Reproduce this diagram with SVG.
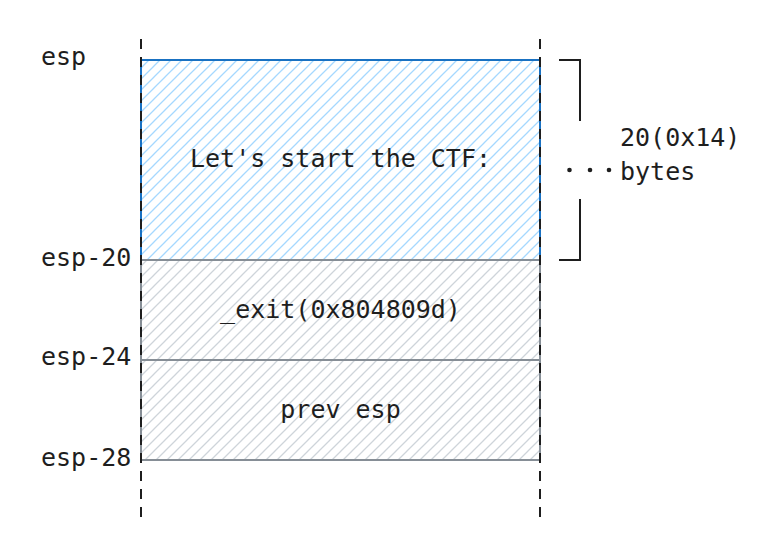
<svg xmlns="http://www.w3.org/2000/svg" width="783" height="560" viewBox="0 0 783 560">
  <defs>
    <pattern id="hatchBlue" patternUnits="userSpaceOnUse" width="11" height="11">
      <path d="M-1,1 L1,-1 M0,11 L11,0 M10,12 L12,10" stroke="#a5d8ff" stroke-width="1.3"/>
    </pattern>
    <pattern id="hatchGray" patternUnits="userSpaceOnUse" width="11" height="11">
      <path d="M-1,1 L1,-1 M0,11 L11,0 M10,12 L12,10" stroke="#ced4da" stroke-width="1.3"/>
    </pattern>
  </defs>
  <style>
    text { font-family: "DejaVu Sans Mono", "Liberation Mono", monospace; font-size: 25px; fill: #1e1e1e; }
    .mid { text-anchor: middle; }
    .blue { fill: url(#hatchBlue); stroke: #1971c2; stroke-width: 2; }
    .gray { fill: url(#hatchGray); stroke: #868e96; stroke-width: 2; }
    .dash { stroke: #1e1e1e; stroke-width: 2; stroke-dasharray: 10 8; fill: none; }
    .ink { stroke: #1e1e1e; stroke-width: 2; fill: none; }
  </style>
  <rect width="783" height="560" fill="#ffffff"/>

  <g id="block-buffer">
    <rect class="blue" x="141" y="60" width="399" height="200"/>
    <text class="mid" x="340.5" y="167">Let's start the CTF:</text>
  </g>
  <g id="block-exit">
    <rect class="gray" x="141" y="260" width="399" height="100"/>
    <text class="mid" x="340.5" y="318">_exit(0x804809d)</text>
  </g>
  <g id="block-prev">
    <rect class="gray" x="141" y="360" width="399" height="100"/>
    <text class="mid" x="340.5" y="418">prev esp</text>
  </g>

  <g id="labels">
    <text x="41" y="65">esp</text>
    <text x="41" y="266">esp-20</text>
    <text x="41" y="365">esp-24</text>
    <text x="41" y="466">esp-28</text>
  </g>

  <g id="size-note">
    <path class="ink" d="M559,60 H580 V121 M580,199 V260 H559"/>
    <circle cx="569.5" cy="170" r="2.3" fill="#1e1e1e"/>
    <circle cx="590" cy="170" r="2.3" fill="#1e1e1e"/>
    <circle cx="609" cy="170" r="2.3" fill="#1e1e1e"/>
    <text x="620" y="146">20(0x14)</text>
    <text x="620" y="180">bytes</text>
  </g>

  <g id="connectors">
    <line class="dash" x1="141" y1="39" x2="141" y2="520"/>
    <line class="dash" x1="540" y1="39" x2="540" y2="520"/>
  </g>
</svg>
